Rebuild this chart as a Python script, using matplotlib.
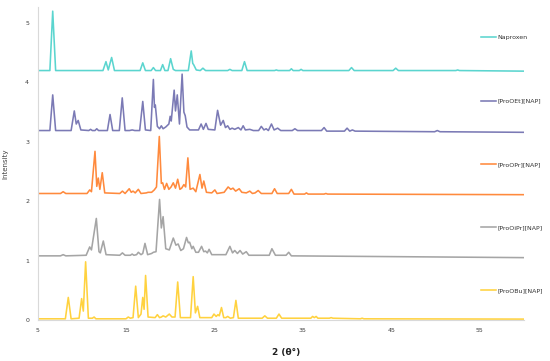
import matplotlib
matplotlib.use("Agg")
import matplotlib.pyplot as plt

# ---- data (2θ, intensity; traces are pre-offset) ----
labels = ["Naproxen", "[ProOEt][NAP]", "[ProOPr][NAP]", "[ProOiPr][NAP]", "[ProOBu][NAP]"]
colors = ["#5BD5CF", "#7B7AB5", "#FF8A3D", "#A5A5A5", "#FFD23F"]

nap_x = [5, 6.4, 6.72, 7.05, 12.4, 12.74, 13.0, 13.38, 13.7, 16.6, 16.9, 17.2, 17.85, 18.1, 18.35,
         18.9, 19.15, 19.4, 19.75, 20.05, 20.35, 20.6, 22.05, 22.38, 22.55, 22.65, 22.95, 23.4, 23.7,
         24.0, 26.5, 26.75, 27.0, 28.1, 28.4, 28.7, 31.8, 32.0, 32.2, 33.5, 33.7, 33.9, 34.6, 34.8,
         35.0, 40.2, 40.5, 40.8, 45.2, 45.5, 45.8, 52.3, 52.5, 52.7, 60]
nap_y = [4.20, 4.20, 5.20, 4.20, 4.20, 4.35, 4.21, 4.42, 4.20, 4.20, 4.33, 4.20, 4.20, 4.25, 4.20,
         4.20, 4.30, 4.20, 4.20, 4.40, 4.22, 4.20, 4.20, 4.53, 4.32, 4.30, 4.21, 4.20, 4.24,
         4.20, 4.20, 4.22, 4.20, 4.20, 4.35, 4.20, 4.20, 4.21, 4.20, 4.20, 4.23, 4.20, 4.20, 4.22,
         4.20, 4.20, 4.25, 4.20, 4.20, 4.24, 4.20, 4.20, 4.21, 4.20, 4.19]

oet_x = [5, 6.4, 6.72, 7.05, 8.8, 9.16, 9.38, 9.6, 9.9, 10.8, 11.0, 11.2, 11.5, 11.7, 11.9, 12.9, 13.2,
         13.5, 14.25, 14.58, 14.9, 15.4, 15.7, 16.0, 16.55, 16.9, 17.2, 17.8, 18.1, 18.22, 18.32, 18.55,
         18.8, 19.0, 19.2, 19.5, 19.85, 20.0, 20.12, 20.45, 20.6, 20.8, 21.05, 21.35, 21.55, 21.7, 21.9,
         22.2, 23.2, 23.5, 23.75, 24.05, 24.3, 25.05, 25.36, 25.7, 26.0, 26.25, 26.5, 26.75, 27.0, 27.3,
         27.7, 28.0, 28.25, 28.5, 29.0, 29.4, 30.0, 30.3, 30.6, 30.85, 31.1, 31.45, 31.75, 32.15, 32.5,
         33.8, 34.1, 34.4, 37.1, 37.4, 37.7, 39.7, 40.0, 40.3, 40.6, 40.9, 49.9, 50.2, 50.5, 60]
oet_y = [3.19, 3.19, 3.79, 3.19, 3.19, 3.52, 3.30, 3.36, 3.20, 3.19, 3.21, 3.19, 3.19, 3.22, 3.19, 3.19, 3.46,
         3.19, 3.19, 3.74, 3.19, 3.19, 3.20, 3.19, 3.19, 3.68, 3.20, 3.19, 4.05, 3.58, 3.62, 3.26,
         3.22, 3.27, 3.22, 3.25, 3.30, 3.43, 3.35, 3.87, 3.52, 3.79, 3.30, 4.14, 3.50, 3.44, 3.25,
         3.20, 3.20, 3.30, 3.21, 3.31, 3.21, 3.20, 3.53, 3.28, 3.36, 3.24, 3.27, 3.21, 3.23, 3.21,
         3.24, 3.20, 3.27, 3.20, 3.21, 3.19, 3.19, 3.26, 3.20, 3.22, 3.19, 3.30, 3.20, 3.23, 3.19,
         3.19, 3.22, 3.19, 3.19, 3.24, 3.18, 3.18, 3.23, 3.18, 3.20, 3.18, 3.17, 3.19, 3.17, 3.16]

opr_x = [5, 7.6, 7.9, 8.2, 10.6, 10.9, 11.1, 11.5, 11.7, 11.87, 12.05, 12.32, 12.6, 14.3, 14.6, 14.9,
         15.37, 15.6, 15.8, 16.05, 16.4, 16.7, 17.3, 17.5, 17.9, 18.2, 18.45, 18.77, 19.0, 19.15, 19.35,
         19.6, 19.85, 20.1, 20.35, 20.6, 20.85, 21.1, 21.3, 21.55, 21.75, 22.0, 22.25, 22.6, 22.9, 23.36,
         23.6, 23.8, 24.1, 24.7, 25.05, 25.3, 26.1, 26.55, 26.85, 27.1, 27.4, 27.8, 28.1, 28.6, 29.0,
         29.3, 29.6, 29.95, 30.3, 31.5, 31.8, 32.1, 33.4, 33.7, 34.0, 35.2, 35.4, 35.6, 37.4, 37.6, 37.8, 60]
opr_y = [2.13, 2.13, 2.16, 2.13, 2.13, 2.19, 2.16, 2.84, 2.25, 2.39, 2.20, 2.48, 2.14, 2.13, 2.17, 2.13,
         2.21, 2.15, 2.17, 2.14, 2.20, 2.13, 2.14, 2.15, 2.15, 2.19, 2.24, 3.09, 2.30, 2.31, 2.20,
         2.30, 2.20, 2.24, 2.31, 2.22, 2.37, 2.20, 2.22, 2.28, 2.24, 2.73, 2.20, 2.22, 2.16, 2.45,
         2.22, 2.34, 2.15, 2.14, 2.19, 2.13, 2.15, 2.24, 2.20, 2.22, 2.17, 2.21, 2.15, 2.14, 2.17,
         2.13, 2.14, 2.18, 2.13, 2.13, 2.21, 2.13, 2.13, 2.20, 2.12, 2.12, 2.14, 2.12, 2.12, 2.13, 2.12, 2.11]

oipr_x = [5, 7.6, 7.9, 8.2, 10.5, 10.9, 11.1, 11.65, 11.95, 12.1, 12.44, 12.75, 14.3, 14.6, 14.9, 15.5,
          15.7, 15.9, 16.2, 16.4, 16.7, 16.9, 17.15, 17.45, 17.9, 18.1, 18.4, 18.8, 19.0, 19.2, 19.5,
          19.9, 20.35, 20.65, 20.9, 21.2, 21.5, 21.85, 22.05, 22.2, 22.45, 22.6, 22.9, 23.2, 23.55, 23.8,
          24.0, 24.2, 24.4, 24.7, 26.3, 26.75, 27.05, 27.3, 27.6, 27.9, 28.2, 28.6, 28.9, 31.2, 31.5,
          31.9, 33.1, 33.4, 33.7, 60]
oipr_y = [1.08, 1.08, 1.10, 1.08, 1.09, 1.23, 1.18, 1.71, 1.15, 1.13, 1.33, 1.10, 1.09, 1.13, 1.09, 1.09,
          1.11, 1.09, 1.10, 1.14, 1.10, 1.12, 1.29, 1.10, 1.12, 1.14, 1.15, 2.03, 1.55, 1.74, 1.20,
          1.18, 1.38, 1.26, 1.28, 1.17, 1.20, 1.39, 1.30, 1.31, 1.20, 1.24, 1.14, 1.14, 1.24, 1.15,
          1.16, 1.13, 1.19, 1.10, 1.10, 1.24, 1.13, 1.17, 1.12, 1.17, 1.11, 1.15, 1.09, 1.09, 1.20,
          1.09, 1.09, 1.14, 1.08, 1.05]

obu_x = [5, 8.15, 8.48, 8.8, 9.7, 9.99, 10.18, 10.44, 10.75, 11.2, 11.4, 11.6, 15.0, 15.26, 15.5, 15.8,
         16.1, 16.4, 16.7, 16.9, 17.05, 17.22, 17.5, 18.3, 18.55, 18.8, 19.0, 19.2, 19.5, 19.9, 20.2,
         20.55, 20.85, 21.15, 22.3, 22.6, 22.85, 23.1, 23.35, 24.7, 24.95, 25.2, 25.4, 25.55, 25.8, 26.05,
         26.3, 26.5, 26.8, 27.15, 27.43, 27.7, 30.4, 30.7, 31.0, 32.0, 32.3, 32.6, 35.9, 36.1, 36.3,
         36.5, 36.7, 38.0, 38.2, 38.4, 41.5, 41.7, 41.9, 60]
obu_y = [0.02, 0.02, 0.38, 0.02, 0.03, 0.36, 0.15, 0.98, 0.03, 0.03, 0.05, 0.02, 0.02, 0.05, 0.03, 0.04,
         0.57, 0.04, 0.10, 0.38, 0.18, 0.75, 0.05, 0.04, 0.09, 0.04, 0.05, 0.07, 0.05, 0.10, 0.05,
         0.05, 0.64, 0.04, 0.04, 0.73, 0.12, 0.23, 0.04, 0.04, 0.10, 0.06, 0.09, 0.07, 0.21, 0.04,
         0.04, 0.06, 0.03, 0.04, 0.33, 0.03, 0.03, 0.07, 0.03, 0.03, 0.10, 0.03, 0.03, 0.06, 0.04,
         0.06, 0.03, 0.03, 0.04, 0.03, 0.02, 0.03, 0.02, 0.015]

xticks = [5, 15, 25, 35, 45, 55]
yticks = [0, 1, 2, 3, 4, 5]

series = [(nap_x, nap_y), (oet_x, oet_y), (opr_x, opr_y), (oipr_x, oipr_y), (obu_x, obu_y)]

# ---- figure ----
fig = plt.figure(figsize=(5.5, 3.61), dpi=100)
ax = fig.add_axes([37.5 / 550, 41 / 361, (524 - 37.5) / 550, (354 - 41) / 361])

handles = []
for (x, y), lab, col in zip(series, labels, colors):
    h, = ax.plot(x, y, color=col, lw=1.15, label=lab, solid_joinstyle="round")
    handles.append(h)

ax.set_xlim(5, 60)
ax.set_ylim(0, 5.27)
ax.set_xticks(xticks)
ax.set_yticks(yticks)
ax.tick_params(axis="both", length=0, labelsize=4.5, labelcolor="#404040")
ax.tick_params(axis="x", pad=6)
ax.tick_params(axis="y", pad=6)
for s in ["top", "right"]:
    ax.spines[s].set_visible(False)
for s in ["left", "bottom"]:
    ax.spines[s].set_color("#D9D9D9")
    ax.spines[s].set_linewidth(0.8)

ax.set_xlabel("2 (θ°)", fontsize=6.5, fontweight="bold", color="#202020")
ax.xaxis.set_label_coords((286 - 37.5) / (524 - 37.5), -(348 - 320) / 313)
ax.set_ylabel("Intensity", fontsize=5, color="#404040")
ax.yaxis.set_label_coords(-(37.5 - 8) / 486.5, 0.5)

leg = fig.legend(handles=handles, labels=labels, loc="upper left",
                 bbox_to_anchor=(481 / 550, 1 - 35 / 361), frameon=False,
                 fontsize=4.5, handlelength=2.4, handletextpad=0.3,
                 labelspacing=9.27, borderaxespad=0, borderpad=0)
for t in leg.get_texts():
    t.set_color("#333333")

fig.savefig("out.png", dpi=100)
